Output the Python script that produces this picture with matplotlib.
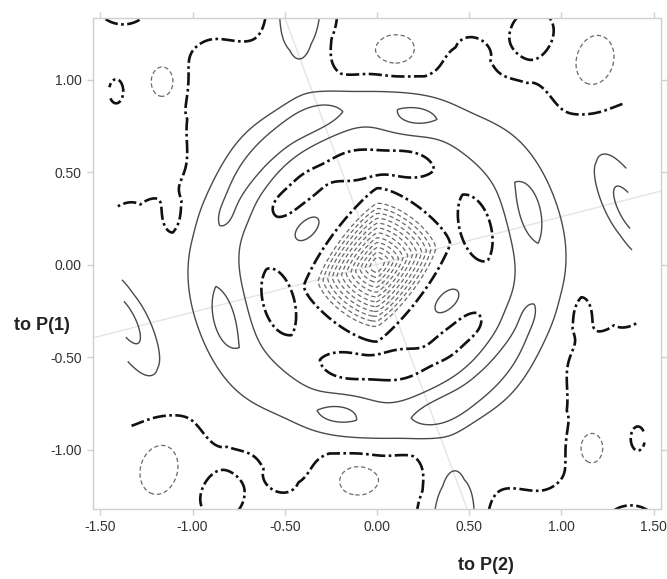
import numpy as np
import matplotlib
matplotlib.use("Agg")
import matplotlib.pyplot as plt

plt.rcParams["font.family"] = ["Liberation Sans", "DejaVu Sans"]

# radial profiles (value at distance from the centre)
hole_r = [0.0, 0.042, 0.33, 0.40, 0.42, 0.45, 3.0]
hole_v = [-13.15, -12.55, -1.55, -0.6, -0.25, 0.0, 0.0]
ring_r = [0.0, 0.42, 0.60, 0.74, 0.86, 0.96, 1.08, 1.28, 3.0]
ring_v = [0.55, 0.55, 0.55, 1.0, 1.5, 1.0, 0.0, -0.5, -0.5]
# outer part of the ring is a little wider along x than along y
ring_stretch = [1.04, 0.97]

# local peaks / troughs of one half of the map (other half is centrosymmetric)
feat_x = [0.206, 0.824, -0.294, -0.43, -0.575, -0.695, -0.785, -0.822, -0.38,
          0.19, -0.13, -0.40, -0.52, 0.545,
          1.36, 1.45, 1.25, -0.42, -0.45, -0.85, -0.95, 0.85, 0.50, 0.85,
          -1.415, -1.38, -1.28,
          -1.154, 1.176, 0.098, -0.15, -0.72, -1.1]
feat_y = [0.80, 0.297, 0.808, 0.745, 0.636, 0.505, 0.345, 0.251, 0.20,
          0.55, 0.545, 0.42, 0.32, 0.21,
          0.30, 0.30, 0.70, 1.45, 1.25, 1.0, 0.75, 0.85, 1.15, 1.27,
          0.94, 1.42, 0.30,
          0.989, 1.076, 1.151, 1.13, 1.38, 0.25]
feat_amp = [0.9, 0.9, 0.8, 0.8, 0.75, 0.7, 0.6, 0.4, 0.75,
            -0.85, -0.85, -0.8, -0.7, -1.0,
            2.0, 1.0, 0.4, 2.3, 0.4, 0.85, 0.2, 0.6, 0.6, 0.85,
            0.75, 1.0, 0.2,
            -1.2, -1.1, -1.3, -0.5, -0.6, -0.42]
feat_sa = [0.11, 0.16, 0.1, 0.1, 0.1, 0.1, 0.1, 0.06, 0.087,
           0.13, 0.13, 0.11, 0.07, 0.18,
           0.22, 0.25, 0.15, 0.1, 0.25, 0.2, 0.15, 0.2, 0.12, 0.1,
           0.039, 0.12, 0.12,
           0.065, 0.15, 0.095, 0.08, 0.1, 0.05]
feat_sb = [0.06, 0.075, 0.06, 0.06, 0.06, 0.06, 0.055, 0.04, 0.047,
           0.08, 0.09, 0.075, 0.05, 0.09,
           0.075, 0.45, 0.15, 0.25, 0.25, 0.2, 0.15, 0.2, 0.12, 0.1,
           0.066, 0.1, 0.12,
           0.085, 0.11, 0.07, 0.08, 0.1, 0.08]
feat_ang = [0, 99, 20, 30, 42, 54, 66, 73, 47,
            -5, 12, 45, 40, 104,
            120, 0, 0, 0, 0, 0, 0, 0, 0, 0,
            0, 0, 0,
            0, 75, 0, 0, 0, 0]

xticks = [-1.5, -1.0, -0.5, 0.0, 0.5, 1.0, 1.5]
xlabels = ["-1.50", "-1.00", "-0.50", "0.00", "0.50", "1.00", "1.50"]
yticks = [-1.0, -0.5, 0.0, 0.5, 1.0]
ylabels = ["-1.00", "-0.50", "0.00", "0.50", "1.00"]

neg_levels = list(range(-13, 0))
pos_levels = [1, 2]

# grid
xs = np.linspace(-1.56, 1.56, 600)
ys = np.linspace(-1.34, 1.34, 520)
X, Y = np.meshgrid(xs, ys)

# rounded-square norm for the central hole (diagonals along 16 deg and vertical)
t = np.deg2rad(16)
a = X / np.cos(t)
b = Y - X * np.tan(t)
p = 1.35
rho = (np.abs(a) ** p + np.abs(b) ** p) ** (1 / p)

R = np.hypot(X, Y)
E = np.hypot(X / ring_stretch[0], Y / ring_stretch[1]) / np.maximum(R, 1e-9)
w = np.clip((R - 0.75) / 0.2, 0, 1)
Rm = R * (1 + w * (E - 1))

Z = np.interp(rho, hole_r, hole_v) + np.interp(Rm, ring_r, ring_v)
for fx, fy, fa, sa, sb, ang in zip(feat_x, feat_y, feat_amp, feat_sa, feat_sb, feat_ang):
    c, s = np.cos(np.deg2rad(ang)), np.sin(np.deg2rad(ang))
    for sgn in (1, -1):
        dx = X - sgn * fx
        dy = Y - sgn * fy
        u = dx * c + dy * s
        v = -dx * s + dy * c
        Z = Z + fa * np.exp(-0.5 * ((u / sa) ** 2 + (v / sb) ** 2))

Z = np.ma.masked_where(np.abs(X + 0.065 * Y) > 1.39, Z)

fig = plt.figure(figsize=(6.67, 5.79), dpi=100)
ax = fig.add_axes([0.1394, 0.1209, 0.8516, 0.848])

# faint projection lines
ax.plot([-1.54, 1.54], [-0.395, 0.40], color="#e4e4e4", lw=1.0, zorder=0)
ax.plot([-0.499, 0.488], [1.335, -1.319], color="#e4e4e4", lw=1.0, zorder=0)

ax.contour(X, Y, Z, levels=neg_levels, colors="#6a6a6a",
           linewidths=0.9, linestyles=[(0, (3.5, 2.2))])
ax.contour(X, Y, Z, levels=[0], colors="#111111",
           linewidths=1.9, linestyles=[(0, (5, 1.3, 1.0, 1.3))])
ax.contour(X, Y, Z, levels=pos_levels, colors="#4a4a4a",
           linewidths=1.0, linestyles="solid")

ax.set_xlim(-1.54, 1.54)
ax.set_ylim(-1.32, 1.335)
ax.set_xticks(xticks)
ax.set_xticklabels(xlabels)
ax.set_yticks(yticks)
ax.set_yticklabels(ylabels)
for sp in ax.spines.values():
    sp.set_color("#cfcfcf")
    sp.set_linewidth(1.0)
ax.tick_params(direction="out", length=4, width=1, color="#cfcfcf",
               top=True, right=True, labelsize=10, labelcolor="#333333", pad=4)

fig.text(42 / 667, 1 - 326 / 579, "to P(1)", ha="center", va="center",
         fontsize=13, fontweight="bold", color="#222222")
fig.text(486 / 667, 1 - 566 / 579, "to P(2)", ha="center", va="center",
         fontsize=13, fontweight="bold", color="#222222")

fig.savefig("out.png", dpi=100)
